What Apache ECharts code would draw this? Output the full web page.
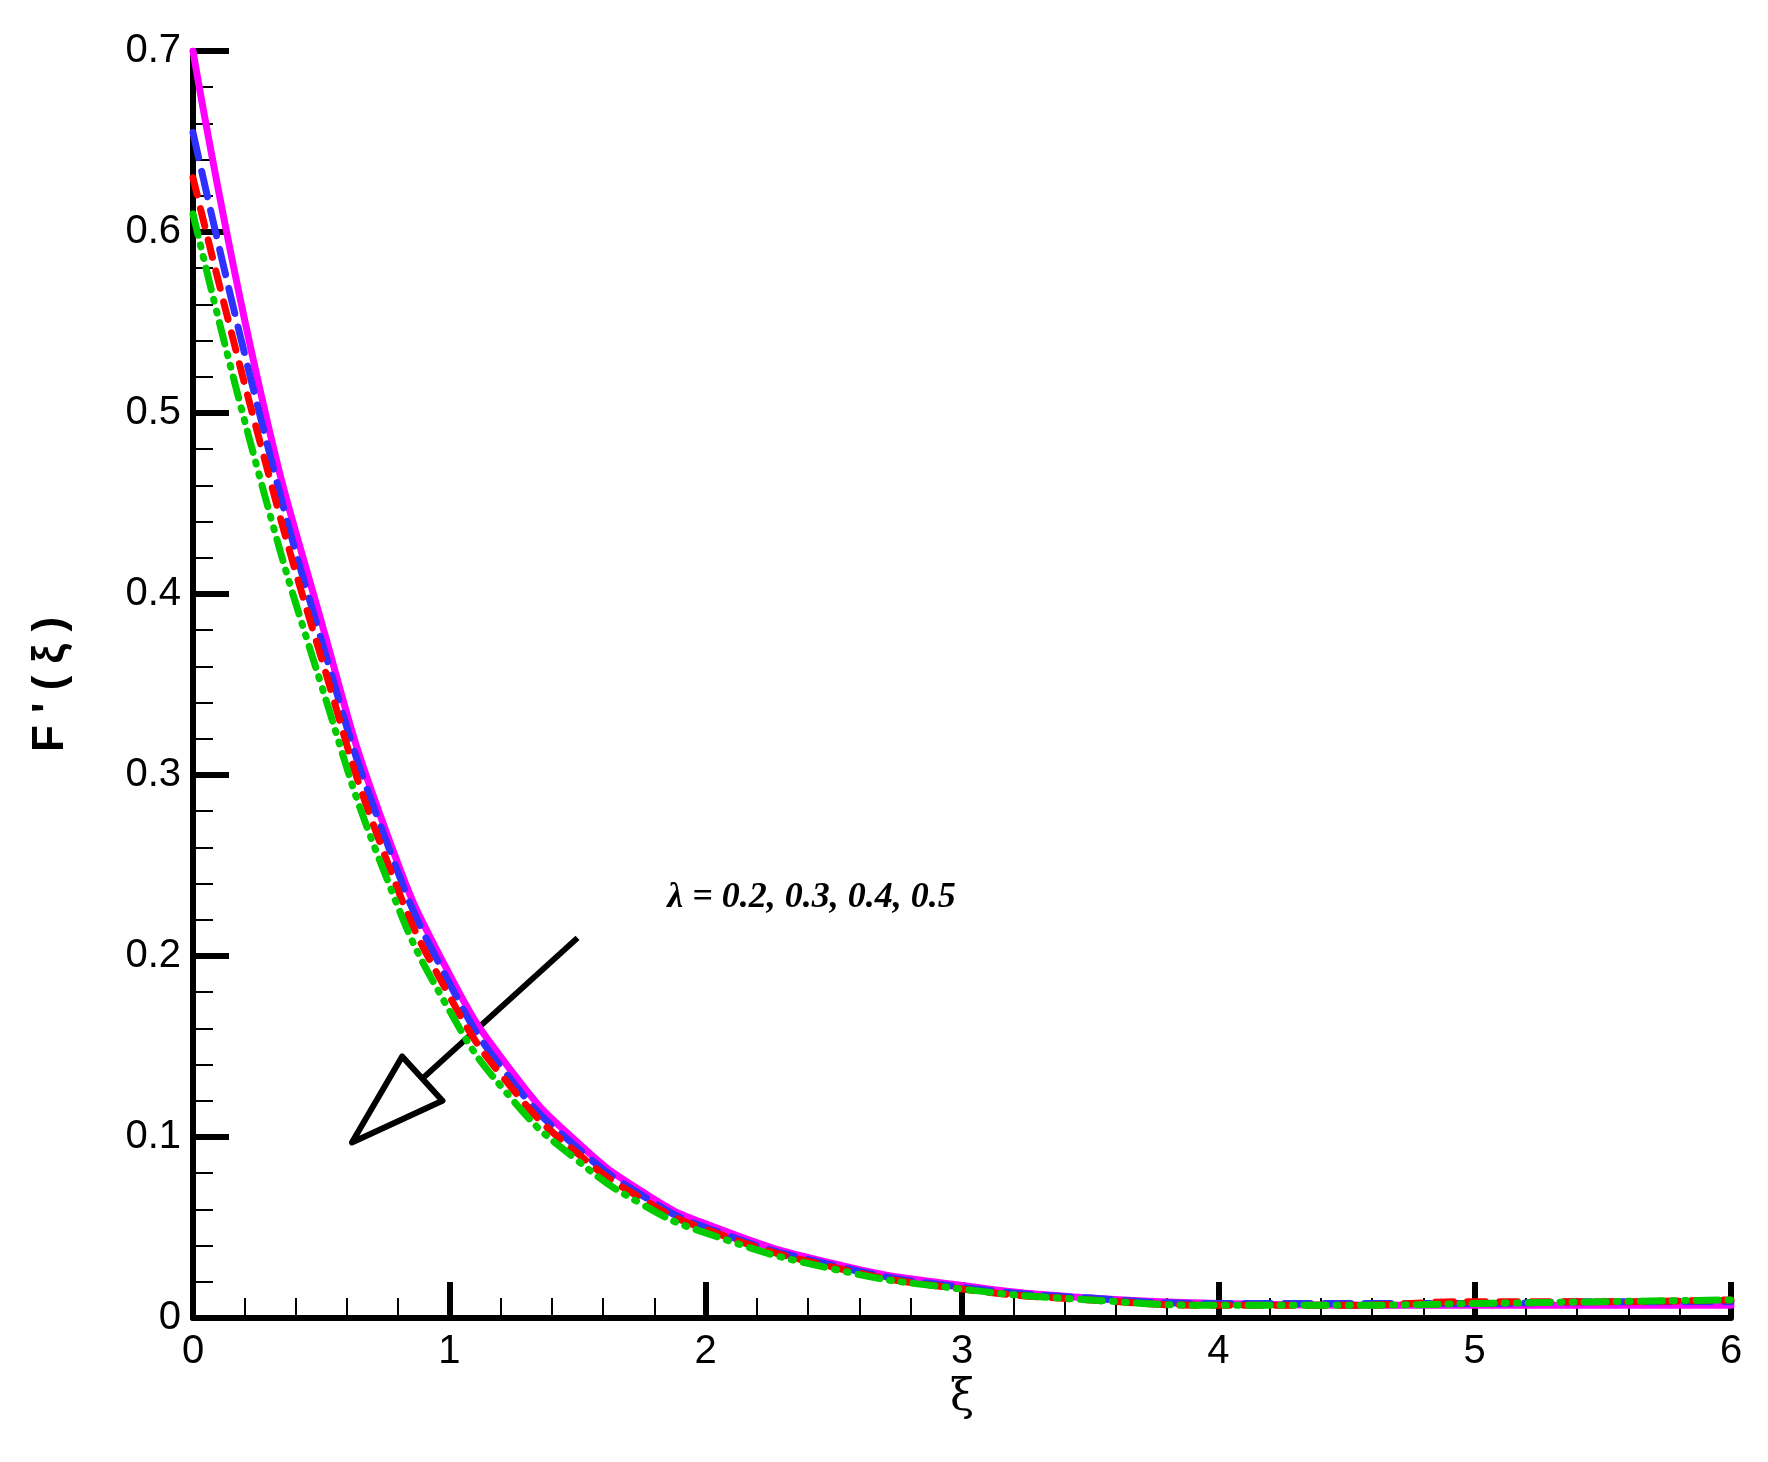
<!DOCTYPE html>
<html><head><meta charset="utf-8">
<script src="https://cdn.jsdelivr.net/npm/echarts@6/dist/echarts.min.js"></script>
<style>html,body{margin:0;background:#fff}#c{width:1768px;height:1462px}</style>
</head><body><div id="c"></div>
<script>
const xs = [0,0.25,0.5,0.75,1,1.25,1.5,1.75,2,2.5,3,3.5,4,4.5,5,5.5,6];
const magenta = [0.70,0.52,0.385,0.27,0.19,0.135,0.097,0.07,0.052,0.03,0.018,0.011,0.008,0.007,0.007,0.007,0.007];
const blue    = [0.655,0.505,0.375,0.265,0.185,0.13,0.094,0.068,0.05,0.029,0.017,0.011,0.008,0.008,0.008,0.009,0.009];
const red     = [0.63,0.49,0.365,0.255,0.178,0.126,0.091,0.066,0.049,0.028,0.016,0.010,0.007,0.007,0.009,0.009,0.010];
const green   = [0.61,0.47,0.35,0.245,0.17,0.12,0.087,0.063,0.047,0.027,0.016,0.010,0.007,0.007,0.008,0.009,0.010];
const label = 'λ = 0.2, 0.3, 0.4, 0.5';
const pair = a => xs.map((x,i)=>[x,a[i]]);
const chart = echarts.init(document.getElementById('c'));
const mk = (d,color,type) => ({type:'line',data:pair(d),smooth:true,showSymbol:false,
  lineStyle:{color,width:7,type,cap:'round'}});
chart.setOption({
  animation:false,
  grid:{left:193,right:37,top:51,bottom:144},
  xAxis:{type:'value',min:0,max:6,interval:1,name:'ξ',nameLocation:'middle',nameGap:55,
    nameTextStyle:{fontSize:44,fontFamily:'DejaVu Serif',color:'#000'},
    axisLine:{lineStyle:{color:'#000',width:6}},
    axisTick:{inside:true,length:36,lineStyle:{color:'#000',width:6}},
    minorTick:{show:true,splitNumber:5,length:20,lineStyle:{color:'#000',width:2}},
    splitLine:{show:false},
    axisLabel:{fontSize:40,fontFamily:'Liberation Sans',color:'#000',margin:14}},
  yAxis:{type:'value',min:0,max:0.7,interval:0.1,name:"F ' ( ξ )",nameLocation:'middle',nameGap:120,
    nameTextStyle:{fontSize:44,fontWeight:'bold',fontFamily:'Liberation Sans',color:'#000'},
    axisLine:{lineStyle:{color:'#000',width:6}},
    axisTick:{inside:true,length:36,lineStyle:{color:'#000',width:6}},
    minorTick:{show:true,splitNumber:5,length:20,lineStyle:{color:'#000',width:2}},
    splitLine:{show:false},
    axisLabel:{fontSize:40,fontFamily:'Liberation Sans',color:'#000',margin:12,formatter:v=>+v.toFixed(1)+''}},
  series:[mk(magenta,'#ff00ff','solid'),mk(blue,'#3030ff',[26,14]),mk(red,'#ff0000',[18,14]),
    mk(green,'#00cc00',[22,10,2,10,2,10])]
});
const p = (x,y)=>chart.convertToPixel({gridIndex:0},[x,y]);
const a = p(1.5,0.21), b = p(0.62,0.097);
const dx=b[0]-a[0], dy=b[1]-a[1], L=Math.hypot(dx,dy), ux=dx/L, uy=dy/L, nx=-uy, ny=ux;
const hl=95, hw=30;
const base=[b[0]-ux*hl,b[1]-uy*hl];
const t = p(1.85,0.232);
chart.setOption({graphic:[
  {type:'line',shape:{x1:a[0],y1:a[1],x2:base[0],y2:base[1]},style:{stroke:'#000',lineWidth:6}},
  {type:'polygon',shape:{points:[b,[base[0]+nx*hw,base[1]+ny*hw],[base[0]-nx*hw,base[1]-ny*hw]]},
    style:{fill:'#fff',stroke:'#000',lineWidth:6,lineJoin:'round'}},
  {type:'text',x:t[0],y:t[1],style:{text:label,font:'italic bold 36px "Liberation Serif"',fill:'#000',textVerticalAlign:'middle'}}
]});
</script></body></html>
